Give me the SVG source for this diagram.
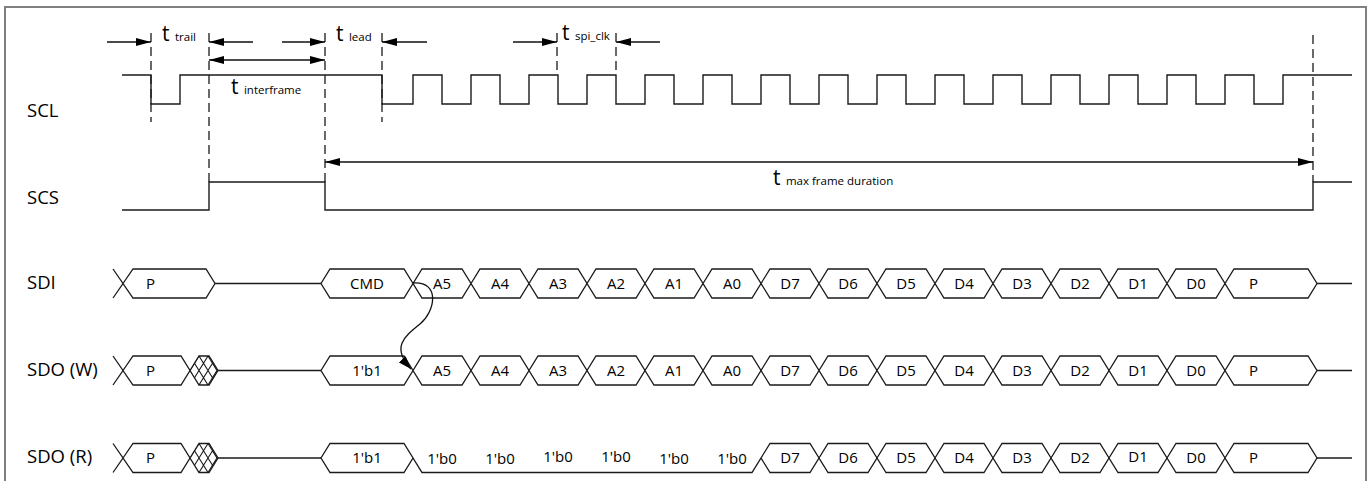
<svg xmlns="http://www.w3.org/2000/svg" xmlns:xlink="http://www.w3.org/1999/xlink" width="1370" height="481" viewBox="0 0 1370 481">
<style>
.frame{fill:none;stroke:#808080;stroke-width:2}
.wave{fill:none;stroke:#1a1a1a;stroke-width:1.4}
.bus{fill:#fff;stroke:#1a1a1a;stroke-width:1.3}
.dash{fill:none;stroke:#1a1a1a;stroke-width:1.3;stroke-dasharray:9,5}
.dim{fill:none;stroke:#111;stroke-width:1.3}
.lbl{font-family:"Open Sans","Liberation Sans",sans-serif;font-size:18.5px;fill:#000}
.btx{font-family:"Open Sans","Liberation Sans",sans-serif;font-size:15px;fill:#000;text-anchor:middle}
.btl{font-family:"Open Sans","Liberation Sans",sans-serif;font-size:15px;fill:#000}
.tb{font-family:"Open Sans","Liberation Sans",sans-serif;font-size:21px;fill:#000}
.ts{font-size:11.5px}
</style>
<defs>
<marker id="arr" viewBox="0 0 15 8" refX="15" refY="4" markerWidth="15" markerHeight="8" markerUnits="userSpaceOnUse" orient="auto-start-reverse">
<path d="M0,0 L15,4 L0,8 Z" fill="#000"/>
</marker>
<marker id="ah" viewBox="0 0 13 9" refX="13" refY="4.5" markerWidth="13" markerHeight="9" markerUnits="userSpaceOnUse" orient="auto">
<path d="M0,0 L13,4.5 L0,9 Z" fill="#000"/>
</marker>
<path id="cell" class="bus" d="M0,0 L9,-14.5 H49 L58,0 L49,14.5 H9 Z"/>
<path id="cmd" class="bus" d="M0,0 L9,-14.5 H83 L92,0 L83,14.5 H9 Z"/>
<path id="pend" class="bus" d="M0,0 L9,-14.5 H83 L92,0 L83,14.5 H9 Z"/>
<clipPath id="hclip"><path d="M0,0 L9,-14.5 H19 L28,0 L19,14.5 H9 Z"/></clipPath>
<g id="hatch">
<path class="bus" d="M0,0 L9,-14.5 H19 L28,0 L19,14.5 H9 Z"/>
<g clip-path="url(#hclip)" stroke="#1a1a1a" stroke-width="1.1" fill="none">
<path d="M0,-14.5 L18,14.5 M9,-14.5 L27,14.5 M18,-14.5 L36,14.5 M0,14.5 L18,-14.5 M9,14.5 L27,-14.5 M18,14.5 L36,-14.5 M-9,14.5 L9,-14.5"/>
</g>
</g>
</defs>

<rect class="frame" x="5" y="7" width="1361" height="490"/>

<g id="labels">
<text class="lbl" x="27" y="117">SCL</text>
<text class="lbl" x="27" y="204">SCS</text>
<text class="lbl" x="27" y="289">SDI</text>
<text class="lbl" x="27" y="376">SDO (W)</text>
<text class="lbl" x="27" y="463">SDO (R)</text>
</g>

<g id="SCL">
<path class="wave" d="M122,75 H151 V104 H180 V75 H382 V104 H413 V75 H442 V104 H471 V75 H500 V104 H529 V75 H558 V104 H587 V75 H616 V104 H645 V75 H674 V104 H703 V75 H732 V104 H761 V75 H790 V104 H819 V75 H848 V104 H877 V75 H906 V104 H935 V75 H964 V104 H993 V75 H1022 V104 H1051 V75 H1080 V104 H1109 V75 H1138 V104 H1167 V75 H1196 V104 H1225 V75 H1254 V104 H1283 V75 H1352"/>
</g>

<g id="SCS">
<path class="wave" d="M122,210 H209 V182 H325 V210 H1313 V182 H1352"/>
</g>

<g id="markers">
<line class="dash" x1="151" y1="33" x2="151" y2="122"/>
<line class="dash" x1="209" y1="33" x2="209" y2="182"/>
<line class="dash" x1="325" y1="33" x2="325" y2="182"/>
<line class="dash" x1="382" y1="33" x2="382" y2="122"/>
<line class="dash" x1="557" y1="33" x2="557" y2="75"/>
<line class="dash" x1="616" y1="33" x2="616" y2="75"/>
<line class="dash" x1="1313" y1="35" x2="1313" y2="182"/>
</g>

<g id="timing-labels">
<text class="tb" x="162" y="41">t <tspan class="ts">trail</tspan></text>
<text class="tb" x="231" y="94">t <tspan class="ts">interframe</tspan></text>
<text class="tb" x="336" y="41">t <tspan class="ts">lead</tspan></text>
<text class="tb" x="562" y="40">t <tspan class="ts">spi_clk</tspan></text>
<text class="tb" x="773" y="185">t <tspan class="ts">max frame duration</tspan></text>
</g>

<g id="SDI">
<path class="bus" d="M113,269 L123,283.5 L113,298"/>
<path class="bus" d="M123,283.5 L133,269 H206 L215,283.5 L206,298 H133 Z"/>
<line class="wave" x1="215" y1="283.5" x2="321" y2="283.5"/>
<use xlink:href="#cmd" x="321" y="283.5"/>
<use xlink:href="#cell" x="413" y="283.5"/>
<use xlink:href="#cell" x="471" y="283.5"/>
<use xlink:href="#cell" x="529" y="283.5"/>
<use xlink:href="#cell" x="587" y="283.5"/>
<use xlink:href="#cell" x="645" y="283.5"/>
<use xlink:href="#cell" x="703" y="283.5"/>
<use xlink:href="#cell" x="761" y="283.5"/>
<use xlink:href="#cell" x="819" y="283.5"/>
<use xlink:href="#cell" x="877" y="283.5"/>
<use xlink:href="#cell" x="935" y="283.5"/>
<use xlink:href="#cell" x="993" y="283.5"/>
<use xlink:href="#cell" x="1051" y="283.5"/>
<use xlink:href="#cell" x="1109" y="283.5"/>
<use xlink:href="#cell" x="1167" y="283.5"/>
<use xlink:href="#pend" x="1225" y="283.5"/>
<line class="wave" x1="1317" y1="283.5" x2="1352" y2="283.5"/>
<text class="btl" x="146" y="289">P</text>
<text class="btx" x="367" y="289">CMD</text>
<text class="btx" x="442" y="289">A5</text>
<text class="btx" x="500" y="289">A4</text>
<text class="btx" x="558" y="289">A3</text>
<text class="btx" x="616" y="289">A2</text>
<text class="btx" x="674" y="289">A1</text>
<text class="btx" x="732" y="289">A0</text>
<text class="btx" x="790" y="289">D7</text>
<text class="btx" x="848" y="289">D6</text>
<text class="btx" x="906" y="289">D5</text>
<text class="btx" x="964" y="289">D4</text>
<text class="btx" x="1022" y="289">D3</text>
<text class="btx" x="1080" y="289">D2</text>
<text class="btx" x="1138" y="289">D1</text>
<text class="btx" x="1196" y="289">D0</text>
<text class="btl" x="1249" y="289">P</text>
</g>

<g id="SDO-W">
<path class="bus" d="M113,356 L123,370.5 L113,385"/>
<path class="bus" d="M123,370.5 L133,356 H181 L190,370.5 L181,385 H133 Z"/>
<use xlink:href="#hatch" x="190" y="370.5"/>
<line class="wave" x1="218" y1="370.5" x2="321" y2="370.5"/>
<use xlink:href="#cmd" x="321" y="370.5"/>
<use xlink:href="#cell" x="413" y="370.5"/>
<use xlink:href="#cell" x="471" y="370.5"/>
<use xlink:href="#cell" x="529" y="370.5"/>
<use xlink:href="#cell" x="587" y="370.5"/>
<use xlink:href="#cell" x="645" y="370.5"/>
<use xlink:href="#cell" x="703" y="370.5"/>
<use xlink:href="#cell" x="761" y="370.5"/>
<use xlink:href="#cell" x="819" y="370.5"/>
<use xlink:href="#cell" x="877" y="370.5"/>
<use xlink:href="#cell" x="935" y="370.5"/>
<use xlink:href="#cell" x="993" y="370.5"/>
<use xlink:href="#cell" x="1051" y="370.5"/>
<use xlink:href="#cell" x="1109" y="370.5"/>
<use xlink:href="#cell" x="1167" y="370.5"/>
<use xlink:href="#pend" x="1225" y="370.5"/>
<line class="wave" x1="1317" y1="370.5" x2="1352" y2="370.5"/>
<text class="btl" x="146" y="376">P</text>
<text class="btx" x="367" y="376">1'b1</text>
<text class="btx" x="442" y="376">A5</text>
<text class="btx" x="500" y="376">A4</text>
<text class="btx" x="558" y="376">A3</text>
<text class="btx" x="616" y="376">A2</text>
<text class="btx" x="674" y="376">A1</text>
<text class="btx" x="732" y="376">A0</text>
<text class="btx" x="790" y="376">D7</text>
<text class="btx" x="848" y="376">D6</text>
<text class="btx" x="906" y="376">D5</text>
<text class="btx" x="964" y="376">D4</text>
<text class="btx" x="1022" y="376">D3</text>
<text class="btx" x="1080" y="376">D2</text>
<text class="btx" x="1138" y="376">D1</text>
<text class="btx" x="1196" y="376">D0</text>
<text class="btl" x="1249" y="376">P</text>
</g>

<g id="SDO-R">
<path class="bus" d="M113,443.5 L123,458 L113,472.5"/>
<path class="bus" d="M123,458 L133,443.5 H181 L190,458 L181,472.5 H133 Z"/>
<use xlink:href="#hatch" x="190" y="458"/>
<line class="wave" x1="218" y1="458" x2="321" y2="458"/>
<use xlink:href="#cmd" x="321" y="458"/>
<path class="wave" d="M413,458 L422,472.5 H752 L761,458"/>
<use xlink:href="#cell" x="761" y="458"/>
<use xlink:href="#cell" x="819" y="458"/>
<use xlink:href="#cell" x="877" y="458"/>
<use xlink:href="#cell" x="935" y="458"/>
<use xlink:href="#cell" x="993" y="458"/>
<use xlink:href="#cell" x="1051" y="458"/>
<use xlink:href="#cell" x="1109" y="458"/>
<use xlink:href="#cell" x="1167" y="458"/>
<use xlink:href="#pend" x="1225" y="458"/>
<line class="wave" x1="1317" y1="458" x2="1352" y2="458"/>
<text class="btl" x="146" y="463">P</text>
<text class="btx" x="367" y="463">1'b1</text>
<text class="btx" x="442" y="464">1'b0</text>
<text class="btx" x="500" y="464">1'b0</text>
<text class="btx" x="558" y="462">1'b0</text>
<text class="btx" x="616" y="462">1'b0</text>
<text class="btx" x="674" y="464">1'b0</text>
<text class="btx" x="732" y="464">1'b0</text>
<text class="btx" x="790" y="463">D7</text>
<text class="btx" x="848" y="463">D6</text>
<text class="btx" x="906" y="463">D5</text>
<text class="btx" x="964" y="463">D4</text>
<text class="btx" x="1022" y="463">D3</text>
<text class="btx" x="1080" y="463">D2</text>
<text class="btx" x="1138" y="462">D1</text>
<text class="btx" x="1196" y="463">D0</text>
<text class="btl" x="1249" y="463">P</text>
</g>

<g id="connectors">
<line class="dim" x1="107" y1="42" x2="151" y2="42" marker-end="url(#arr)"/>
<line class="dim" x1="253" y1="42" x2="209" y2="42" marker-end="url(#arr)"/>
<line class="dim" x1="282" y1="42" x2="325" y2="42" marker-end="url(#arr)"/>
<line class="dim" x1="427" y1="42" x2="382" y2="42" marker-end="url(#arr)"/>
<line class="dim" x1="513" y1="42" x2="557" y2="42" marker-end="url(#arr)"/>
<line class="dim" x1="660" y1="42" x2="616" y2="42" marker-end="url(#arr)"/>
<line class="dim" x1="209" y1="60" x2="325" y2="60" marker-start="url(#arr)" marker-end="url(#arr)"/>
<line class="dim" x1="325" y1="162" x2="1313" y2="162" marker-start="url(#arr)" marker-end="url(#arr)"/>
<path class="dim" d="M413,283 C441,281 435,312 420,324 C404,337 391,347 411,369" marker-end="url(#ah)"/>
</g>
</svg>
